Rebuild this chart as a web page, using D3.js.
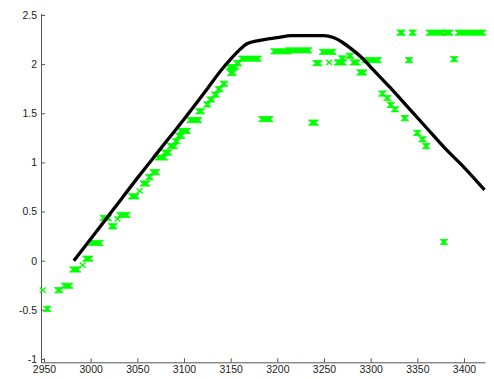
<!DOCTYPE html>
<html>
<head>
<meta charset="utf-8">
<title>Fit vs samples</title>
<script src="https://cdn.jsdelivr.net/npm/d3@7"></script>
<style>
  html, body { margin: 0; padding: 0; background: #fff; }
  text { font: 10.5px "Liberation Sans", Arial, sans-serif; fill: #222; }
  .axis path, .axis line { stroke: #555; }
</style>
</head>
<body>
<div id="graph"></div>
<script>
// black curve
var lineX = [2982, 3000, 3025, 3050, 3075, 3100, 3125, 3140, 3150, 3160, 3168, 3180, 3200, 3215, 3250, 3260, 3270, 3280, 3290, 3300, 3320, 3340, 3360, 3380, 3400, 3422];
var lineY = [0.0, 0.22, 0.53, 0.84, 1.14, 1.44, 1.75, 1.94, 2.05, 2.15, 2.21, 2.24, 2.27, 2.29, 2.29, 2.27, 2.22, 2.15, 2.07, 1.97, 1.77, 1.56, 1.35, 1.14, 0.95, 0.72];

// green samples: runs of overlapping x markers (start, end, value)
var runX0 = [2952.5, 2964.5, 2971.5, 2980.5, 2994.5, 3000.5, 3013, 3022, 3031, 3043.5, 3056, 3062, 3066.5, 3072, 3079, 3085, 3090.5, 3094, 3096, 3106, 3115.5, 3124, 3127.5, 3132.5, 3136.5, 3141.5, 3149.5, 3148, 3156, 3161.5, 3183, 3196, 3212, 3236.5, 3241, 3248, 3264, 3268.5, 3276.5, 3281, 3288, 3293.5, 3311.5, 3317, 3320.5, 3325, 3335.5, 3349, 3354.5, 3358.5, 3331, 3344, 3362.5, 3380, 3393.5, 3340, 3388.5, 3377.5];
var runX1 = [2954.5, 2967.5, 2978, 2986.5, 2999.5, 3010.5, 3019.5, 3025.5, 3039.5, 3049, 3060.5, 3064, 3071, 3079.5, 3084, 3090, 3093, 3098, 3104, 3116, 3119, 3126, 3130, 3135, 3139, 3144, 3153, 3156, 3159, 3180, 3192.5, 3212, 3234, 3241, 3245, 3260, 3271, 3271, 3279, 3286, 3293, 3308.5, 3313.5, 3319, 3322.5, 3327, 3337.5, 3351, 3356.5, 3360.5, 3334, 3346, 3377, 3385.5, 3420.5, 3342, 3390.5, 3379.5];
var runY  = [-0.49, -0.30, -0.255, -0.09, 0.02, 0.18, 0.435, 0.35, 0.465, 0.655, 0.785, 0.85, 0.90, 1.05, 1.10, 1.165, 1.215, 1.27, 1.32, 1.43, 1.52, 1.59, 1.64, 1.69, 1.745, 1.80, 1.91, 1.97, 2.01, 2.055, 1.44, 2.13, 2.14, 1.405, 2.01, 2.125, 2.017, 2.058, 2.085, 2.017, 1.915, 2.04, 1.70, 1.655, 1.585, 1.54, 1.45, 1.30, 1.235, 1.165, 2.32, 2.32, 2.32, 2.32, 2.32, 2.04, 2.05, 0.19];

// isolated single x markers
var dotX = [2948.6, 2991.5, 3028.8, 3052.5, 3255.5];
var dotY = [-0.30, -0.045, 0.425, 0.71, 2.017];

var xTicks = [2950, 3000, 3050, 3100, 3150, 3200, 3250, 3300, 3350, 3400];
var yTicks = [-1, -0.5, 0, 0.5, 1, 1.5, 2, 2.5];

var W = 494, H = 379;
var x = d3.scaleLinear().domain([2946.8, 3422.5]).range([41, 485]);
var y = d3.scaleLinear().domain([-1.034, 2.517]).range([362.3, 13.3]);

var svg = d3.select('#graph').append('svg')
  .attr('width', W).attr('height', H);

// axes (ticks point inward, no box)
svg.append('g').attr('class', 'axis')
  .attr('transform', 'translate(0,362.3)')
  .call(d3.axisBottom(x).tickValues(xTicks).tickSizeInner(-4).tickSizeOuter(0).tickPadding(3)
    .tickFormat(function(d) { return String(d); }));
svg.append('g').attr('class', 'axis')
  .attr('transform', 'translate(41,0)')
  .call(d3.axisLeft(y).tickValues(yTicks).tickSizeInner(-4).tickSizeOuter(0).tickPadding(4)
    .tickFormat(function(d) { return String(d); }));
svg.selectAll('.axis .domain').attr('stroke', '#555');
svg.selectAll('.axis text').attr('fill', '#222').style('font', '10.5px "Liberation Sans", Arial, sans-serif');

var green = '#00ff00';
var hx = 3, hy = 2.6;

// runs of overlapping x markers
var runs = runX0.map(function(d, i) { return {x0: d, x1: runX1[i], y: runY[i]}; });
svg.append('g').selectAll('path')
  .data(runs)
  .enter().append('path')
    .attr('d', function(d) {
      var a = x(d.x0), b = x(d.x1), c = y(d.y);
      return 'M' + (a - hx) + ',' + (c - hy) + 'L' + (b + hx) + ',' + (c - hy) +
        'L' + b + ',' + c + 'L' + (b + hx) + ',' + (c + hy) +
        'L' + (a - hx) + ',' + (c + hy) + 'L' + a + ',' + c + 'Z';
    })
    .attr('fill', green)
    .attr('stroke', green)
    .attr('stroke-width', 0.8);

// single markers
var dots = dotX.map(function(d, i) { return {x: d, y: dotY[i]}; });
svg.append('g').selectAll('path')
  .data(dots)
  .enter().append('path')
    .attr('d', function(d) {
      var a = x(d.x), c = y(d.y);
      return 'M' + (a - hx) + ',' + (c - hy) + 'L' + (a + hx) + ',' + (c + hy) +
        'M' + (a - hx) + ',' + (c + hy) + 'L' + (a + hx) + ',' + (c - hy);
    })
    .attr('fill', 'none')
    .attr('stroke', green)
    .attr('stroke-width', 1.4);

// black curve on top
var pts = lineX.map(function(d, i) { return [d, lineY[i]]; });
svg.append('path')
  .datum(pts)
  .attr('d', d3.line().x(function(d) { return x(d[0]); }).y(function(d) { return y(d[1]); }).curve(d3.curveMonotoneX))
  .attr('fill', 'none')
  .attr('stroke', '#000')
  .attr('stroke-width', 3.3)
  .attr('stroke-linejoin', 'round');
</script>
</body>
</html>
